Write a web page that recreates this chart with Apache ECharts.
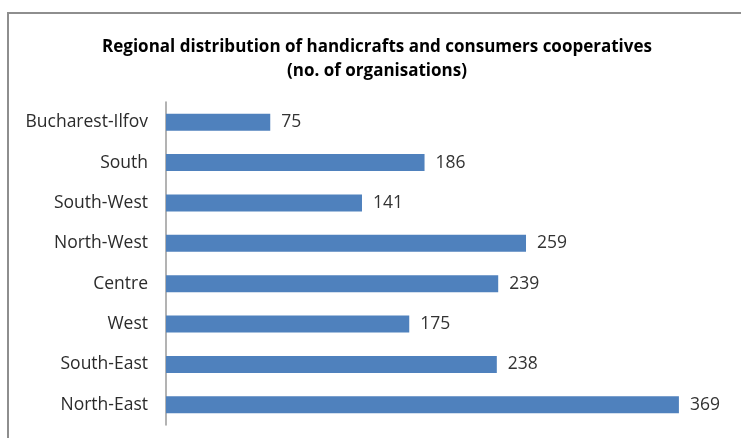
<!DOCTYPE html>
<html>
<head>
<meta charset="utf-8">
<script src="https://cdn.jsdelivr.net/npm/echarts@6/dist/echarts.min.js"></script>
<style>
  html, body { margin: 0; padding: 0; background: #fff; }
  #chart { width: 741px; height: 438px; }
</style>
</head>
<body>
<div id="chart"></div>
<script>
// Regions, listed top to bottom
const regions = ['Bucharest-Ilfov', 'South', 'South-West', 'North-West', 'Centre', 'West', 'South-East', 'North-East'];
// Number of organisations per region
const organisations = [75, 186, 141, 259, 239, 175, 238, 369];

const chart = echarts.init(document.getElementById('chart'));
const fontFamily = '"Open Sans", "Liberation Sans", sans-serif';

chart.setOption({
  animation: false,
  backgroundColor: '#ffffff',
  graphic: [{
    type: 'rect',
    shape: { x: 8, y: 13, width: 800, height: 500 },
    style: { fill: 'none', stroke: '#8e8e8e', lineWidth: 2 },
    silent: true
  }],
  title: {
    text: 'Regional distribution of handicrafts and consumers cooperatives\n(no. of organisations)',
    left: 372,
    top: 30,
    textAlign: 'center',
    textStyle: {
      fontFamily: fontFamily,
      fontSize: 17,
      fontWeight: 'bold',
      color: '#000000',
      lineHeight: 24
    }
  },
  grid: { left: 166, right: 19, top: 102, bottom: 13, containLabel: false },
  xAxis: {
    type: 'value',
    min: 0,
    max: 400,
    show: false
  },
  yAxis: {
    type: 'category',
    inverse: true,
    data: regions,
    axisLine: { show: true, lineStyle: { color: '#9a9a9a', width: 1.5 } },
    axisTick: { show: false },
    axisLabel: {
      margin: 18,
      fontFamily: fontFamily,
      fontSize: 17.5,
      color: '#2b2b2b'
    }
  },
  series: [{
    type: 'bar',
    data: organisations,
    barWidth: 17,
    itemStyle: { color: '#4f81bd' },
    label: {
      show: true,
      position: 'right',
      distance: 11,
      fontFamily: fontFamily,
      fontSize: 17.5,
      color: '#333333'
    }
  }]
});
</script>
</body>
</html>
